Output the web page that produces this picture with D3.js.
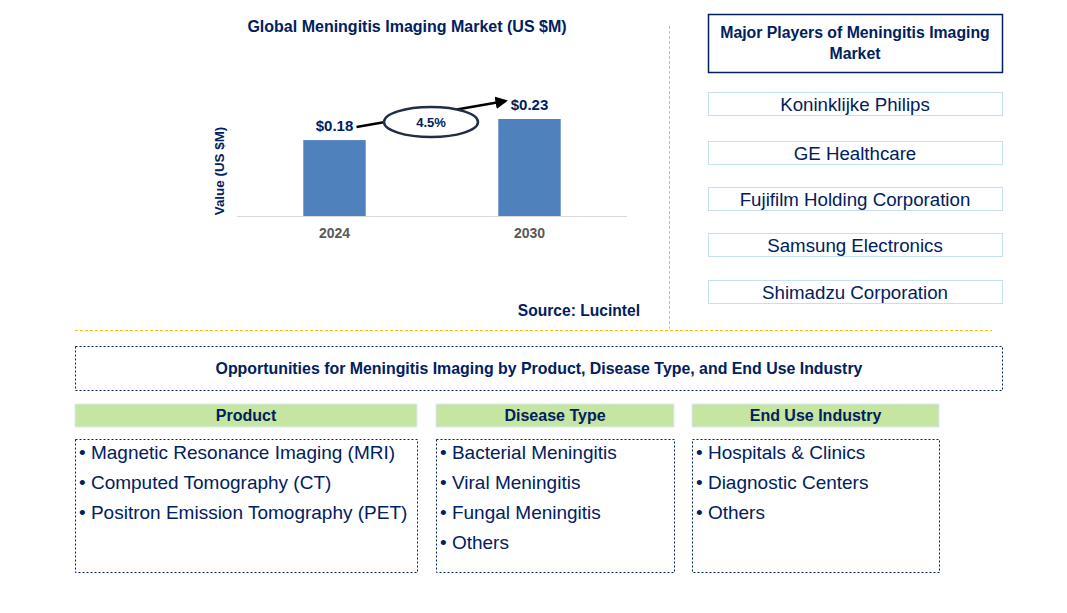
<!DOCTYPE html>
<html><head><meta charset="utf-8">
<script src="https://cdn.jsdelivr.net/npm/d3@7"></script>
<style>body{margin:0;background:#fff}svg{display:block;font-family:"Liberation Sans",Arial,sans-serif}</style>
</head><body>
<script>
const years = ["2024", "2030"];
const values = [0.18, 0.23];
const valueLabels = ["$0.18", "$0.23"];
const cagr = "4.5%";
const players = ["Koninklijke Philips", "GE Healthcare", "Fujifilm Holding Corporation", "Samsung Electronics", "Shimadzu Corporation"];
const segHeaders = ["Product", "Disease Type", "End Use Industry"];
const productItems = ["Magnetic Resonance Imaging (MRI)", "Computed Tomography (CT)", "Positron Emission Tomography (PET)"];
const diseaseItems = ["Bacterial Meningitis", "Viral Meningitis", "Fungal Meningitis", "Others"];
const endUseItems = ["Hospitals & Clinics", "Diagnostic Centers", "Others"];

const navy = "#002060";
const W = 1067, H = 613;
const svg = d3.select("body").append("svg").attr("width", W).attr("height", H);

// Chart
const x = d3.scaleBand().domain(years).range([237, 627]).paddingInner(0.68).paddingOuter(0.34);
const y = d3.scaleLinear().domain([0, 0.23]).range([216, 119]);

svg.append("text").attr("x", 407).attr("y", 32).attr("text-anchor", "middle")
  .attr("font-weight", "bold").attr("font-size", 16).attr("fill", navy)
  .text("Global Meningitis Imaging Market (US $M)");

svg.selectAll("rect.bar").data(values).enter().append("rect").attr("class", "bar")
  .attr("x", (d, i) => x(years[i])).attr("width", x.bandwidth())
  .attr("y", d => y(d)).attr("height", d => y(0) - y(d)).attr("fill", "#4F81BD");

svg.append("line").attr("x1", 237).attr("x2", 627).attr("y1", y(0) + 0.5).attr("y2", y(0) + 0.5)
  .attr("stroke", "#d9d9d9").attr("stroke-width", 1);

const xAxis = svg.append("g").attr("transform", `translate(0,${y(0)})`)
  .call(d3.axisBottom(x).tickSize(0).tickPadding(12));
xAxis.select(".domain").remove();
xAxis.selectAll("text").attr("font-size", 14).attr("font-weight", "bold").attr("fill", "#595959")
  .attr("font-family", "Liberation Sans, Arial, sans-serif");

svg.selectAll("text.vl").data(values).enter().append("text").attr("class", "vl")
  .attr("x", (d, i) => x(years[i]) + x.bandwidth() / 2)
  .attr("y", d => y(d) - 9).attr("text-anchor", "middle")
  .attr("font-weight", "bold").attr("font-size", 15).attr("fill", navy)
  .text((d, i) => valueLabels[i]);

svg.append("text").attr("transform", "translate(224,171) rotate(-90)").attr("text-anchor", "middle")
  .attr("font-weight", "bold").attr("font-size", 13.4).attr("fill", navy).text("Value (US $M)");

// Arrow
const defs = svg.append("defs");
defs.append("marker").attr("id", "ah").attr("viewBox", "0 0 10 10").attr("refX", 8).attr("refY", 5)
  .attr("markerWidth", 5).attr("markerHeight", 5).attr("orient", "auto")
  .append("path").attr("d", "M0,0 L10,5 L0,10 z").attr("fill", "#000");
const x0 = x(years[0]) + x.bandwidth() / 2, x1 = x(years[1]) + x.bandwidth() / 2;
svg.append("line").attr("x1", x0 + 22).attr("y1", y(values[0]) - 13)
  .attr("x2", x1 - 24).attr("y2", y(values[1]) - 18)
  .attr("stroke", "#000").attr("stroke-width", 2.5).attr("marker-end", "url(#ah)");
svg.append("ellipse").attr("cx", 431).attr("cy", 122).attr("rx", 47).attr("ry", 15)
  .attr("fill", "#fff").attr("stroke", "#1f2d4a").attr("stroke-width", 2.5);
svg.append("text").attr("x", 431).attr("y", 127).attr("text-anchor", "middle")
  .attr("font-weight", "bold").attr("font-size", 13).attr("fill", navy).text(cagr);

svg.append("text").attr("x", 640).attr("y", 316).attr("text-anchor", "end")
  .attr("font-weight", "bold").attr("font-size", 15.6).attr("fill", navy).text("Source: Lucintel");

// Dividers
svg.append("line").attr("x1", 669.5).attr("x2", 669.5).attr("y1", 26).attr("y2", 330)
  .attr("stroke", "#FFC000").attr("stroke-width", 1).attr("stroke-dasharray", "3,2");
svg.append("line").attr("x1", 75).attr("x2", 992).attr("y1", 330.5).attr("y2", 330.5)
  .attr("stroke", "#FFC000").attr("stroke-width", 1).attr("stroke-dasharray", "3,2");

// Major players
svg.append("rect").attr("x", 708.5).attr("y", 14.5).attr("width", 294).attr("height", 58)
  .attr("fill", "#fff").attr("stroke", navy).attr("stroke-width", 1.5);
svg.append("text").attr("x", 855).attr("y", 38).attr("text-anchor", "middle")
  .attr("font-weight", "bold").attr("font-size", 15.8).attr("fill", navy).text("Major Players of Meningitis Imaging");
svg.append("text").attr("x", 855).attr("y", 59).attr("text-anchor", "middle")
  .attr("font-weight", "bold").attr("font-size", 15.8).attr("fill", navy).text("Market");

const py = [92.5, 141.5, 187.5, 233.5, 280.5];
players.forEach((p, i) => {
  svg.append("rect").attr("x", 708.5).attr("y", py[i]).attr("width", 294).attr("height", 23)
    .attr("fill", "#fff").attr("stroke", "#C5E0F4").attr("stroke-width", 1);
  svg.append("text").attr("x", 855).attr("y", py[i] + 18).attr("text-anchor", "middle")
    .attr("font-size", 18.7).attr("fill", navy).text(p);
});

// Opportunities
svg.append("rect").attr("x", 75.5).attr("y", 346.5).attr("width", 927).attr("height", 44)
  .attr("fill", "none").attr("stroke", navy).attr("stroke-width", 1).attr("stroke-dasharray", "2,2");
svg.append("text").attr("x", 539).attr("y", 374).attr("text-anchor", "middle")
  .attr("font-weight", "bold").attr("font-size", 15.9).attr("fill", navy)
  .text("Opportunities for Meningitis Imaging by Product, Disease Type, and End Use Industry");

const cols = [{x: 75, w: 342, items: productItems}, {x: 436, w: 238, items: diseaseItems}, {x: 692, w: 247, items: endUseItems}];
cols.forEach((c, i) => {
  svg.append("rect").attr("x", c.x).attr("y", 404).attr("width", c.w).attr("height", 23)
    .attr("fill", "#C6E5A0").attr("stroke", "#d6ecf7").attr("stroke-width", 1);
  svg.append("text").attr("x", c.x + c.w / 2).attr("y", 421).attr("text-anchor", "middle")
    .attr("font-weight", "bold").attr("font-size", 16).attr("fill", navy).text(segHeaders[i]);
  svg.append("rect").attr("x", c.x + 0.5).attr("y", 439.5).attr("width", c.w).attr("height", 133)
    .attr("fill", "none").attr("stroke", navy).attr("stroke-width", 1).attr("stroke-dasharray", "2,2");
  c.items.forEach((t, j) => {
    svg.append("text").attr("x", c.x + 4).attr("y", 459 + j * 30)
      .attr("font-size", 19).attr("fill", navy).text("• " + t);
  });
});
</script>
</body></html>
